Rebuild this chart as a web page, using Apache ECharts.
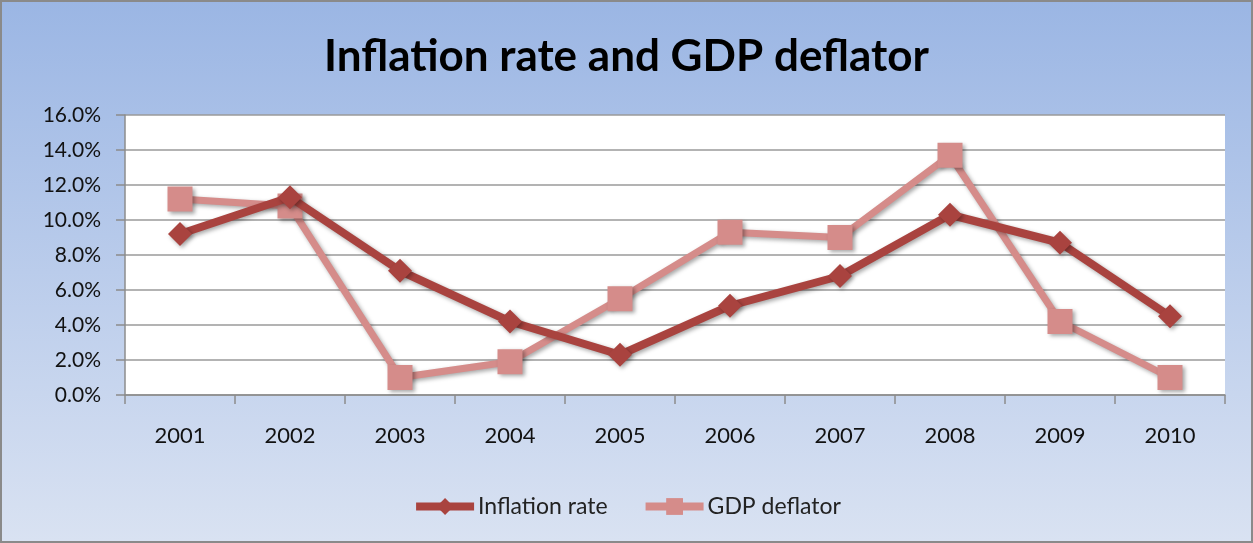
<!DOCTYPE html>
<html>
<head>
<meta charset="utf-8">
<script src="https://cdn.jsdelivr.net/npm/echarts@6/dist/echarts.min.js"></script>
<style>
  html, body { margin: 0; padding: 0; }
  #chart { width: 1249px; height: 539px; border: 2px solid #8a8a8a; }
</style>
</head>
<body>
<div id="chart"></div>
<script>
// Years on the category axis
const years = ['2001', '2002', '2003', '2004', '2005', '2006', '2007', '2008', '2009', '2010'];
// Annual rates, in percent
const inflationRate = [9.2, 11.3, 7.1, 4.2, 2.3, 5.1, 6.8, 10.3, 8.7, 4.5];
const gdpDeflator = [11.2, 10.8, 1.0, 1.9, 5.5, 9.3, 9.0, 13.7, 4.2, 1.0];
// Value axis range and step, in percent
const yMin = 0, yMax = 16, yStep = 2;

const font = 'Lato, "Open Sans", sans-serif';
const shadow = { shadowBlur: 4, shadowOffsetX: 2, shadowOffsetY: 2, shadowColor: 'rgba(0,0,0,0.35)' };

const chart = echarts.init(document.getElementById('chart'));
chart.setOption({
  backgroundColor: {
    type: 'linear', x: 0, y: 0, x2: 0, y2: 1,
    colorStops: [
      { offset: 0, color: '#9bb6e4' },
      { offset: 1, color: '#d9e2f2' }
    ]
  },
  animation: false,
  title: {
    text: 'Inflation rate and GDP deflator',
    left: 'center',
    top: 28,
    textStyle: { fontFamily: font, fontWeight: 'bold', fontSize: 44, color: '#000' }
  },
  grid: {
    left: 123, right: 26, top: 113, bottom: 146,
    show: true, backgroundColor: '#ffffff', borderWidth: 0
  },
  legend: {
    bottom: 18,
    left: 'center',
    itemWidth: 58,
    itemHeight: 21,
    itemGap: 34,
    lineStyle: { width: 8 },
    textStyle: { fontFamily: font, fontSize: 23, color: '#222', padding: [0, 0, 0, -1] },
    data: ['Inflation rate', 'GDP deflator']
  },
  xAxis: {
    type: 'category',
    data: years,
    boundaryGap: true,
    axisLine: { lineStyle: { color: '#8c8c8c', width: 1.5 } },
    axisTick: { show: true, length: 9, lineStyle: { color: '#8c8c8c', width: 1.5 } },
    axisLabel: { fontFamily: font, fontSize: 22, color: '#111', margin: 30 }
  },
  yAxis: {
    type: 'value',
    min: yMin, max: yMax, interval: yStep,
    axisLine: { show: true, lineStyle: { color: '#8c8c8c', width: 1.5 } },
    axisTick: { show: true, length: 9, lineStyle: { color: '#8c8c8c', width: 1.5 } },
    splitLine: { lineStyle: { color: '#9a9a9a', width: 1.5 } },
    axisLabel: {
      fontFamily: font, fontSize: 21, color: '#111', margin: 24,
      formatter: v => v.toFixed(1) + '%'
    }
  },
  series: [
    {
      name: 'Inflation rate',
      type: 'line',
      data: inflationRate,
      symbol: 'diamond',
      symbolSize: 24,
      itemStyle: Object.assign({ color: '#a9433f' }, shadow),
      lineStyle: Object.assign({ color: '#a9433f', width: 8 }, shadow),
      z: 3
    },
    {
      name: 'GDP deflator',
      type: 'line',
      data: gdpDeflator,
      symbol: 'rect',
      symbolSize: 25,
      itemStyle: Object.assign({ color: '#d58c8a' }, shadow),
      lineStyle: Object.assign({ color: '#d58c8a', width: 7 }, shadow),
      z: 2
    }
  ]
});
</script>
</body>
</html>
